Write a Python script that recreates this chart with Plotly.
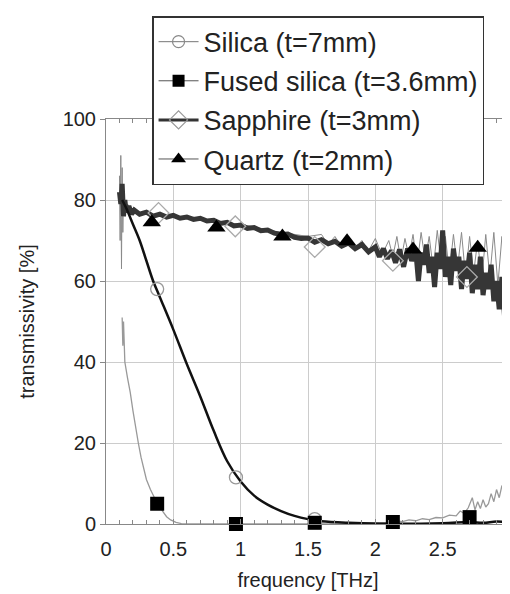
import plotly.graph_objects as go

# --- data ---
silica_x = [0.12, 0.15, 0.20, 0.25, 0.30, 0.35, 0.40, 0.50, 0.60, 0.70, 0.80, 0.90, 1.00,
            1.10, 1.20, 1.30, 1.40, 1.50, 1.60, 1.80, 2.00, 2.50, 2.70, 2.80, 2.90, 3.00]
silica_y = [80, 78, 74, 70, 65, 60, 56, 48, 39.5, 31.5, 23, 15.5, 10.5,
            7, 4.8, 3.2, 2.0, 1.2, 0.7, 0.3, 0.1, 0.2, 0.5, 0.3, 0.6, 0.4]
silica_mx = [0.38, 0.965, 1.55, 2.13, 2.70]
silica_my = [58, 11.5, 1.2, -0.3, -0.5]

fused_x = [0.12, 0.125, 0.13, 0.135, 0.14, 0.16, 0.18, 0.20, 0.22, 0.24, 0.26, 0.28, 0.30,
           0.33, 0.36, 0.39, 0.42, 0.45, 0.48, 0.52, 0.56, 0.60, 1.00, 1.50, 2.00, 2.10,
           2.15, 2.20, 2.25, 2.30, 2.35, 2.40, 2.45, 2.50, 2.55, 2.60, 2.63, 2.66, 2.69,
           2.72, 2.74, 2.76, 2.78, 2.80, 2.82, 2.84, 2.86, 2.88, 2.90, 2.92, 2.94, 2.96,
           2.98, 3.00]
fused_y = [51, 44, 50, 42, 40, 36, 32.5, 28, 23.5, 20, 16.5, 13.5, 11,
           8.5, 6.5, 5, 3.2, 1.8, 1.0, 0.4, 0.1, 0, 0, 0, 0, 0.2,
           0.8, 0.6, 1.0, 0.8, 1.3, 1.1, 1.6, 1.5, 2.2, 2.0, 3.2, 2.6, 4.0,
           6.5, 3.5, 5.5, 3.8, 6.0, 4.2, 5.0, 7.5, 5.5, 8.5, 6.5, 9.5, 7.0,
           10.0, 8.0]
fused_mx = [0.38, 0.965, 1.55, 2.13, 2.70]
fused_my = [5, 0, 0.3, 0.5, 1.7]

sapphire_x = [0.10, 0.11, 0.12, 0.13, 0.14, 0.15, 0.17, 0.19, 0.21, 0.25, 0.30, 0.35, 0.40,
              0.45, 0.50, 0.55, 0.60, 0.65, 0.70, 0.75, 0.80, 0.85, 0.90, 0.95, 1.00, 1.05,
              1.10, 1.15, 1.20, 1.25, 1.30, 1.35, 1.40, 1.45, 1.50, 1.55, 1.60, 1.65, 1.70,
              1.75, 1.80, 1.85, 1.90, 1.95, 2.00, 2.03, 2.06, 2.09, 2.12, 2.15, 2.18, 2.21,
              2.24, 2.27, 2.30, 2.32, 2.34, 2.36, 2.38, 2.40, 2.42, 2.44, 2.46, 2.48, 2.50,
              2.52, 2.54, 2.56, 2.58, 2.60, 2.62, 2.64, 2.66, 2.68, 2.70, 2.72, 2.74, 2.76,
              2.78, 2.80, 2.82, 2.84, 2.86, 2.88, 2.90, 2.92, 2.94, 2.96, 2.98, 3.00]
sapphire_y = [82, 79, 84, 76, 80, 77, 78.5, 76.5, 77.5, 76.5, 77, 76, 76.5,
              75.8, 76.2, 75.5, 75.8, 75.2, 75.5, 74.8, 75, 74.2, 74.5, 73.6, 73.8, 73,
              73.2, 72.4, 72.6, 71.8, 71.5, 71.6, 70.8, 70.5, 70.6, 69.6, 70.2, 69.2, 69.8,
              68.6, 69.4, 68, 69, 67.2, 68.4, 66, 68, 65.5, 67.5, 64.5, 67.8, 63.5,
              68, 65, 67.5, 60, 67, 64, 69, 62, 66, 58.5, 67, 63, 72.5,
              61, 66, 59, 68, 62.5, 66, 58, 65, 60.5, 67, 57, 64, 58,
              66, 56.5, 62, 58, 64, 55, 60, 53, 61, 51, 58, 54]
sapphire_mx = [0.39, 0.96, 1.55, 2.13, 2.68]
sapphire_my = [76.8, 73.5, 68.4, 65, 61]

quartz_x = [0.10, 0.105, 0.11, 0.115, 0.12, 0.125, 0.13, 0.14, 0.16, 0.20, 0.30, 0.50, 0.80,
            1.00, 1.30, 1.50, 1.60, 1.65, 1.70, 1.75, 1.80, 1.85, 1.90, 1.95, 2.00, 2.05,
            2.10, 2.13, 2.16, 2.19, 2.22, 2.25, 2.28, 2.31, 2.34, 2.37, 2.40, 2.43, 2.46,
            2.49, 2.52, 2.55, 2.58, 2.61, 2.64, 2.67, 2.70, 2.73, 2.76, 2.79, 2.82, 2.85,
            2.88, 2.91, 2.94, 2.97, 3.00]
quartz_y = [86, 70, 91, 63, 88, 72, 82, 76, 79, 77, 76.5, 76, 74.8,
            74, 72, 71, 71.5, 69, 71, 68.5, 70.5, 68, 70, 67.5, 70.5, 66.5,
            70, 66, 71, 65, 70.5, 66, 71.5, 64, 72, 65, 71, 63, 72.5,
            64, 71, 62, 71.5, 63, 72, 61, 71, 62, 70, 60, 71.5, 61,
            72, 59, 71, 58, 65]
quartz_mx = [0.34, 0.82, 1.31, 1.79, 2.28, 2.76]
quartz_my = [74.5, 73.2, 71.0, 69.8, 67.8, 68.2]

names = ['Silica (t=7mm)', 'Fused silica (t=3.6mm)', 'Sapphire (t=3mm)', 'Quartz (t=2mm)']

fig = go.Figure()

# lines as they appear in the plot
fig.add_trace(go.Scatter(x=quartz_x, y=quartz_y, mode='lines',
                         line=dict(color='#8a8a8a', width=1), showlegend=False))
fig.add_trace(go.Scatter(x=sapphire_x, y=sapphire_y, mode='lines',
                         line=dict(color='#363636', width=5), showlegend=False))
fig.add_trace(go.Scatter(x=fused_x, y=fused_y, mode='lines',
                         line=dict(color='#999999', width=1.3), showlegend=False))
fig.add_trace(go.Scatter(x=silica_x, y=silica_y, mode='lines', line_shape='spline',
                         line=dict(color='#111111', width=2.5), showlegend=False))

# markers
fig.add_trace(go.Scatter(x=silica_mx, y=silica_my, mode='markers', cliponaxis=False,
                         marker=dict(symbol='circle-open', size=13, color='#999999',
                                     line=dict(width=1.3)), showlegend=False))
fig.add_trace(go.Scatter(x=sapphire_mx, y=sapphire_my, mode='markers',
                         marker=dict(symbol='diamond-open', size=16, color='#aaaaaa',
                                     line=dict(width=1.3)), showlegend=False))
fig.add_trace(go.Scatter(x=fused_mx, y=fused_my, mode='markers', cliponaxis=False,
                         marker=dict(symbol='square', size=14, color='black'),
                         showlegend=False))
fig.add_trace(go.Scatter(x=quartz_mx, y=quartz_my, mode='markers',
                         marker=dict(symbol='triangle-up', size=16, color='black'),
                         showlegend=False))

# legend-only entries
legend_styles = [
    dict(line=dict(color='#777777', width=1),
         marker=dict(symbol='circle-open', size=12, color='#888888', line=dict(width=1.2))),
    dict(line=dict(color='#555555', width=1),
         marker=dict(symbol='square', size=12, color='black')),
    dict(line=dict(color='#333333', width=3),
         marker=dict(symbol='diamond-open', size=14, color='#999999', line=dict(width=1.2))),
    dict(line=dict(color='#555555', width=1),
         marker=dict(symbol='triangle-up', size=13, color='black')),
]
for i, (nm, st) in enumerate(zip(names, legend_styles)):
    fig.add_trace(go.Scatter(x=[None], y=[None], mode='lines+markers', name=nm,
                             legendgroup=f'g{i}', **st))

axis_font = dict(family='Liberation Sans, Arial, sans-serif', size=20, color='#222222')

# the page body adds an 8px offset, so margins are shifted to compensate
fig.update_layout(
    width=510, height=594,
    margin=dict(l=98, r=8, t=111, b=78, autoexpand=False),
    plot_bgcolor='white', paper_bgcolor='white',
    font=dict(family='Liberation Sans, Arial, sans-serif', color='#222222'),
    legend=dict(x=0.114, y=1.254, xanchor='left', yanchor='top',
                bgcolor='white', bordercolor='#333333', borderwidth=1.5,
                font=dict(size=27, color='#222222'),
                traceorder='grouped', tracegroupgap=1, itemwidth=40),
    xaxis=dict(range=[0, 3], dtick=0.5, showgrid=True, gridcolor='#cccccc', gridwidth=1,
               zeroline=False, showline=True, linecolor='#888888', mirror='ticks',
               ticks='inside', ticklen=5, tickcolor='#888888', tickfont=axis_font,
               automargin=False, ticklabelstandoff=7,
               minor=dict(dtick=0.1, ticks='inside', ticklen=4, tickcolor='#888888',
                          showgrid=False),
               title=dict(text='frequency [THz]', font=dict(size=20), standoff=13)),
    yaxis=dict(range=[0, 100], dtick=20, showgrid=True, gridcolor='#cccccc', gridwidth=1,
               zeroline=False, showline=True, linecolor='#888888',
               ticks='outside', ticklen=5, tickcolor='#888888', tickfont=axis_font,
               automargin=False,
               title=dict(text='transmissivity [%]', font=dict(size=20), standoff=22)),
)

fig.write_html("out.html")
